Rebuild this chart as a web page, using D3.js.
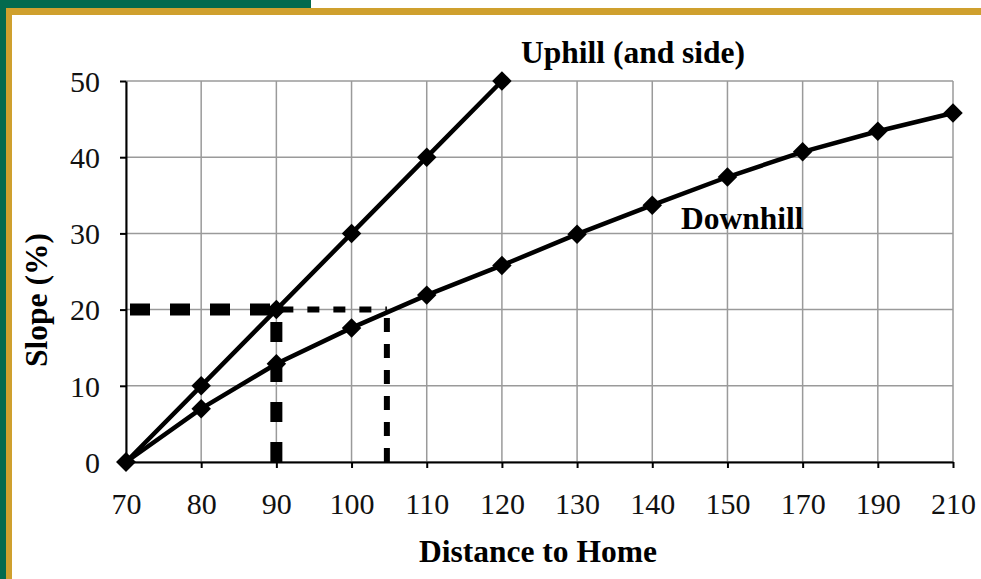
<!DOCTYPE html>
<html>
<head>
<meta charset="utf-8">
<script src="https://cdn.jsdelivr.net/npm/d3@7"></script>
<style>
  body { margin: 0; background: #fff; }
  text { font-family: "Liberation Serif", "Times New Roman", serif; }
</style>
</head>
<body>
<script>
// Distance categories (x axis is evenly spaced, not linear)
var distances = [70, 80, 90, 100, 110, 120, 130, 140, 150, 170, 190, 210];
var slopeTicks = [0, 10, 20, 30, 40, 50];

// Slope (%) per distance
var uphill = [[70, 0], [80, 10], [90, 20], [100, 30], [110, 40], [120, 50]];
var downhill = [[70, 0], [80, 7], [90, 12.9], [100, 17.6], [110, 21.9], [120, 25.8],
                [130, 29.9], [140, 33.7], [150, 37.4], [170, 40.7], [190, 43.4], [210, 45.8]];

// 20% slope reading for each curve
var targetSlope = 20;
var uphillDist = 90;
var downhillDist = 104.7;

var width = 981;
var height = 579;

var svg = d3.select("body")
            .append("svg")
            .attr("width", width)
            .attr("height", height);

// frame: green and gold bands
svg.append("rect").attr("x", 0).attr("y", 0).attr("width", 311).attr("height", 8).attr("fill", "#036a4e");
svg.append("rect").attr("x", 0).attr("y", 0).attr("width", 6).attr("height", height).attr("fill", "#036a4e");
svg.append("rect").attr("x", 6).attr("y", 8).attr("width", width - 6).attr("height", 7).attr("fill", "#cfa02e");
svg.append("rect").attr("x", 6).attr("y", 8).attr("width", 6).attr("height", height - 8).attr("fill", "#cfa02e");

var x = d3.scalePoint().domain(distances).range([126, 953]);
var y = d3.scaleLinear().domain([0, 50]).range([462, 81]);

// position for a distance that falls between two categories
function xPos(v) {
    for (var i = 0; i < distances.length - 1; i++) {
        if (v >= distances[i] && v <= distances[i + 1]) {
            var t = (v - distances[i]) / (distances[i + 1] - distances[i]);
            return x(distances[i]) + t * (x(distances[i + 1]) - x(distances[i]));
        }
    }
    return x(v);
}

// gridlines
svg.append("g").selectAll("line")
    .data(distances)
    .enter()
    .append("line")
    .attr("x1", function(d) { return x(d); })
    .attr("x2", function(d) { return x(d); })
    .attr("y1", y(0))
    .attr("y2", y(50))
    .attr("stroke", "#9a9a9a")
    .attr("stroke-width", 1.5);

svg.append("g").selectAll("line")
    .data(slopeTicks)
    .enter()
    .append("line")
    .attr("x1", x(70))
    .attr("x2", x(210))
    .attr("y1", function(d) { return y(d); })
    .attr("y2", function(d) { return y(d); })
    .attr("stroke", "#9a9a9a")
    .attr("stroke-width", 1.5);

// axes
var yAxis = svg.append("g")
    .attr("transform", "translate(" + x(70) + ",0)")
    .call(d3.axisLeft(y).tickValues(slopeTicks).tickSize(6).tickSizeOuter(0).tickPadding(20));

var xAxis = svg.append("g")
    .attr("transform", "translate(0," + y(0) + ")")
    .call(d3.axisBottom(x).tickSize(6).tickSizeOuter(0));

[yAxis, xAxis].forEach(function(a) {
    a.select(".domain").attr("stroke", "#000").attr("stroke-width", 2);
    a.selectAll(".tick line").attr("stroke", "#000").attr("stroke-width", 2);
    a.selectAll(".tick text")
        .style("font-family", "'Liberation Serif', 'Times New Roman', serif")
        .style("font-size", "30px")
        .attr("fill", "#111");
});
yAxis.selectAll(".tick text").attr("dy", "0.34em");
xAxis.selectAll(".tick text").attr("dy", null).attr("y", 52);

// reading lines at 20% slope
var ty = y(targetSlope);
svg.append("line")
    .attr("x1", x(70) + 4).attr("x2", xPos(uphillDist))
    .attr("y1", ty).attr("y2", ty)
    .attr("stroke", "#000").attr("stroke-width", 12)
    .attr("stroke-dasharray", "20,20");
svg.append("line")
    .attr("x1", xPos(uphillDist)).attr("x2", xPos(uphillDist))
    .attr("y1", y(0)).attr("y2", ty)
    .attr("stroke", "#000").attr("stroke-width", 12)
    .attr("stroke-dasharray", "20,20");
svg.append("line")
    .attr("x1", xPos(uphillDist)).attr("x2", xPos(downhillDist))
    .attr("y1", ty).attr("y2", ty)
    .attr("stroke", "#000").attr("stroke-width", 6)
    .attr("stroke-dasharray", "12,14")
    .attr("stroke-dashoffset", 21);
svg.append("line")
    .attr("x1", xPos(downhillDist)).attr("x2", xPos(downhillDist))
    .attr("y1", y(0)).attr("y2", ty)
    .attr("stroke", "#000").attr("stroke-width", 6)
    .attr("stroke-dasharray", "14,12");

// series
var line = d3.line()
    .x(function(d) { return x(d[0]); })
    .y(function(d) { return y(d[1]); });

var diamond = d3.symbol().type(d3.symbolSquare).size(190);

[uphill, downhill].forEach(function(series) {
    svg.append("path")
        .datum(series)
        .attr("d", line)
        .attr("fill", "none")
        .attr("stroke", "#000")
        .attr("stroke-width", 4.5)
        .attr("stroke-linejoin", "round");

    svg.append("g").selectAll("path")
        .data(series)
        .enter()
        .append("path")
        .attr("d", diamond)
        .attr("transform", function(d) {
            return "translate(" + x(d[0]) + "," + y(d[1]) + ") rotate(45)";
        })
        .attr("fill", "#000");
});

// labels
svg.append("text")
    .attr("x", 521).attr("y", 63)
    .style("font-size", "31.5px").style("font-weight", "bold")
    .text("Uphill (and side)");

svg.append("text")
    .attr("x", 681).attr("y", 229)
    .style("font-size", "31.5px").style("font-weight", "bold")
    .text("Downhill");

svg.append("text")
    .attr("x", 538).attr("y", 562)
    .attr("text-anchor", "middle")
    .style("font-size", "31.5px").style("font-weight", "bold")
    .text("Distance to Home");

svg.append("text")
    .attr("transform", "translate(47,300) rotate(-90)")
    .attr("text-anchor", "middle")
    .style("font-size", "31.5px").style("font-weight", "bold")
    .text("Slope (%)");
</script>
</body>
</html>
